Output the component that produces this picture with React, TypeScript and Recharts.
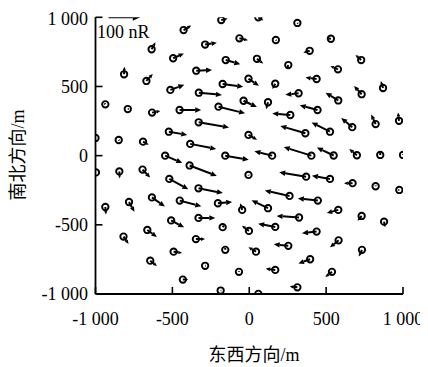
import { ScatterChart, Scatter, XAxis, YAxis } from "recharts";

// station positions (m) and horizontal field vectors (nR)
const stationX = [
  -427, -635, -495, -814, -669, -513, -936, -790, -632, -453, -1000, -849, -691, -523, -384, -345, -328, -329,
  -200, -173, -153, -287, -182, -64, 59, 313, 173, 50, 254, -5, 169, 321, -37, 122, 267, -5, 365, 531, 393, 728,
  577, 438, 870, 731, 579, 444, 974, 822, 670, 525, -547, -156, 149, 404, 549, 700, 852, 1000, -997, -845, -694,
  -520, -388, -330, -5, 370, 525, 672, 822, 976, -936, -782, -633, -452, -204, -46, 262, 446, -330, -508, -173,
  -2, 122, 324, 579, 731, 877, -818, -663, -347, -156, 169, 438, 581, 733, -492, -644, -287, -67, 44, 254, 169,
  396, 538, -432, -186, 59, 313,
];
const stationY = [
  908, 769, 704, 588, 540, 475, 371, 337, 311, 330, 128, 113, 101, 173, 85, 614, 455, 241, 354, 518, 691, 803,
  980, 848, 1000, 959, 836, 700, 655, 556, 520, 451, 397, 386, 294, 150, 162, 845, 758, 691, 624, 554, 489, 444,
  399, 330, 252, 228, 206, 173, 0, 0, 0, 0, 1, 3, 5, 5, -121, -114, -101, -168, -71, -236, -139, -152, -168, -199,
  -221, -248, -371, -335, -302, -325, -344, -392, -291, -325, -450, -468, -517, -544, -380, -447, -392, -436,
  -477, -585, -537, -603, -681, -515, -549, -612, -681, -694, -759, -796, -840, -694, -652, -826, -749, -840,
  -896, -975, -999, -952,
];
const fieldE = [
  24, 12, 34, 1, 20, 44, -3, 3, 26, 68, -3, 2, 18, 58, 82, 50, 73, 96, 84, 65, 46, 37, 20, 27, 16, 2, 2, 20, -3,
  33, -9, -42, 42, -6, -57, 27, -79, -13, -20, -18, -24, -35, -7, -24, -40, -56, -3, -14, -35, -58, 54, 74, -56,
  -87, -53, -24, 0, 0, -3, 1, 24, 60, 86, 77, 1, -85, -57, -27, 0, -3, 2, 17, 41, 68, 45, -6, -78, -63, 53, 41, 4,
  -22, -52, -71, -36, -13, 3, 16, 30, 29, 0, -54, -46, -27, -10, 27, 21, 2, 0, -24, -46, -30, -37, -21, 17, 2, 2,
  -24,
];
const fieldN = [
  14, 22, 15, 24, 22, 16, 3, 0, 5, 0, 0, -2, -10, -10, -16, 2, -7, -16, -21, -9, -13, 6, 5, -6, -10, -2, -2, -15,
  -8, -22, -17, -5, -20, -22, 5, -15, 23, 1, -6, 16, 10, 5, 22, 26, 24, 15, 26, 30, 29, 29, -23, -13, 14, 27, 25,
  20, 10, 2, 0, -22, -25, -33, -33, -15, -2, 14, 10, 0, 2, 0, -24, -31, -29, -18, 4, 21, 17, 7, 0, -22, 5, 16, 25,
  5, -10, -15, -18, -23, -22, 0, 6, 10, -5, -22, -21, -4, -17, 0, 3, 14, 5, 4, -13, -16, 0, 0, 0, 3,
];

const axisTicks = [-1000, -500, 0, 500, 1000];
const scaleArrowX = -915;
const scaleArrowY = 1000;
const scaleArrowNR = 100;
const scaleArrowLabel = "100 nR";
const xTitle = "东西方向/m";
const yTitle = "南北方向/m";

const PX_PER_NR = 0.317;
const FONT = "'Liberation Serif', 'Times New Roman', 'Noto Sans CJK SC', serif";

const stations = stationX.map((x, i) => ({ x, y: stationY[i], e: fieldE[i], n: fieldN[i] }));
const legendData = [{ x: scaleArrowX, y: scaleArrowY, e: scaleArrowNR, n: 0 }];

const fmt = (v: number) =>
  (v < 0 ? "-" : "") + Math.abs(v).toString().replace(/\B(?=(\d{3})+(?!\d))/g, " ");

function arrow(cx: number, cy: number, e: number, n: number, maxHead = 6) {
  const dx = e * PX_PER_NR;
  const dy = -n * PX_PER_NR;
  const len = Math.hypot(dx, dy);
  if (len < 0.3) return null;
  if (len < 4) {
    return <line x1={cx} y1={cy} x2={cx + dx} y2={cy + dy} stroke="#000" strokeWidth={2} />;
  }
  const ux = dx / len;
  const uy = dy / len;
  const hl = Math.min(maxHead, len * 0.45);
  const hw = hl * 0.45;
  const bx = cx + dx - ux * hl;
  const by = cy + dy - uy * hl;
  return (
    <g>
      <line x1={cx} y1={cy} x2={bx} y2={by} stroke="#000" strokeWidth={2} />
      <polygon
        points={`${cx + dx},${cy + dy} ${bx - uy * hw},${by + ux * hw} ${bx + uy * hw},${by - ux * hw}`}
        fill="#000"
      />
    </g>
  );
}

const StationShape = (props: any) => {
  const { cx, cy } = props;
  const p = props.payload ?? props;
  return (
    <g>
      <circle cx={cx} cy={cy} r={3.2} fill="none" stroke="#000" strokeWidth={1.9} />
      {arrow(cx, cy, p.e, p.n)}
    </g>
  );
};

const LegendShape = (props: any) => {
  const { cx, cy } = props;
  const p = props.payload ?? props;
  return (
    <g>
      {arrow(cx, cy, p.e, p.n, 7.5)}
      <text x={cx - 11.6} y={cy + 20.5} fontSize={18} fontFamily={FONT} fill="#000">
        {scaleArrowLabel}
      </text>
    </g>
  );
};

export default function App() {
  const tickStyle = { fill: "#000", fontSize: 18, fontFamily: FONT };
  return (
    <div style={{ position: "relative", width: 420, height: 359 }}>
      <ScatterChart width={420} height={359} margin={{ top: 9.3, right: 25, bottom: 3, left: 0 }}>
        <XAxis
          type="number"
          dataKey="x"
          domain={[-1000, 1000]}
          ticks={axisTicks}
          tickFormatter={fmt}
          allowDataOverflow
          height={70}
          tickSize={-7}
          tickMargin={25}
          tick={tickStyle}
          axisLine={{ stroke: "#000", strokeWidth: 1.8 }}
          tickLine={{ stroke: "#000", strokeWidth: 1.6 }}
        />
        <YAxis
          type="number"
          dataKey="y"
          domain={[-1000, 1000]}
          ticks={axisTicks}
          tickFormatter={fmt}
          allowDataOverflow
          width={87.5}
          tickSize={-7}
          tickMargin={14.5}
          tick={tickStyle}
          axisLine={{ stroke: "#000", strokeWidth: 1.8 }}
          tickLine={{ stroke: "#000", strokeWidth: 1.6 }}
        />
        <Scatter data={stations} shape={StationShape} isAnimationActive={false} />
        <Scatter data={legendData} shape={LegendShape} isAnimationActive={false} />
      </ScatterChart>
      <div
        style={{
          position: "absolute",
          left: 246,
          top: 347,
          transform: "translate(-50%, -50%)",
          fontFamily: FONT,
          fontSize: 18,
          whiteSpace: "nowrap",
          lineHeight: 1,
        }}
      >
        {xTitle}
      </div>
      <div
        style={{
          position: "absolute",
          left: 10,
          top: 147,
          transform: "translate(-50%, -50%) rotate(-90deg)",
          fontFamily: FONT,
          fontSize: 18,
          whiteSpace: "nowrap",
          lineHeight: 1,
        }}
      >
        {yTitle}
      </div>
    </div>
  );
}
